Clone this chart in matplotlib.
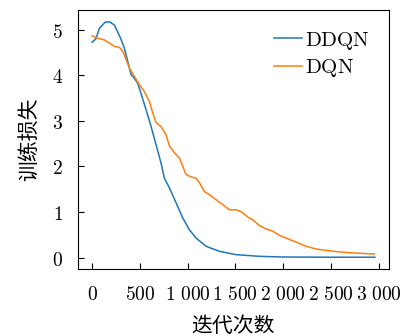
import matplotlib
matplotlib.use("Agg")
import matplotlib.pyplot as plt
from matplotlib.ticker import FuncFormatter

plt.rcParams['mathtext.fontset'] = 'cm'
plt.rcParams['font.family'] = ['Noto Sans CJK SC', 'DejaVu Sans']

ddqn_x = [0, 40, 77, 136, 181, 233, 296, 338, 373, 408, 443, 478, 513, 565, 618, 670,
          722, 757, 809, 880, 949, 1019, 1089, 1193, 1332, 1507, 1751, 1995, 2300,
          2600, 2961]
ddqn_y = [4.72, 4.80, 5.03, 5.16, 5.17, 5.10, 4.82, 4.59, 4.30, 4.01, 3.93, 3.82, 3.59,
          3.24, 2.87, 2.47, 2.07, 1.74, 1.53, 1.20, 0.87, 0.61, 0.43, 0.25, 0.14,
          0.066, 0.03, 0.015, 0.012, 0.01, 0.01]

dqn_x = [0, 59, 129, 181, 233, 286, 321, 356, 391, 443, 495, 541, 600, 635, 670, 722,
         775, 809, 862, 914, 949, 984, 1037, 1089, 1124, 1176, 1228, 1298, 1368, 1438,
         1508, 1560, 1630, 1682, 1752, 1822, 1891, 1961, 2031, 2136, 2241, 2345, 2485,
         2624, 2764, 2956]
dqn_y = [4.86, 4.81, 4.77, 4.70, 4.63, 4.61, 4.52, 4.34, 4.15, 3.97, 3.79, 3.66, 3.42,
         3.17, 2.96, 2.87, 2.69, 2.45, 2.30, 2.18, 2.00, 1.82, 1.77, 1.74, 1.64, 1.45,
         1.38, 1.27, 1.16, 1.05, 1.05, 1.01, 0.89, 0.83, 0.70, 0.63, 0.58, 0.49, 0.43,
         0.34, 0.25, 0.19, 0.15, 0.12, 0.10, 0.08]

xticks = [0, 500, 1000, 1500, 2000, 2500, 3000]
yticks = [0, 1, 2, 3, 4, 5]

fig = plt.figure(figsize=(4.14, 3.36), dpi=100)
ax = fig.add_axes([78/414, 1 - 269/336, (389-78)/414, (269-10)/336])
ax.plot(ddqn_x, ddqn_y, color='#1f77b4', lw=1.1, label='DDQN')
ax.plot(dqn_x, dqn_y, color='#ff7f0e', lw=1.1, label='DQN')

def fmt(v, pos):
    v = int(round(v))
    s = f"{v:,}".replace(",", r"\ ")
    return f"${s}$"

ax.set_xticks(xticks)
ax.set_yticks(yticks)
ax.xaxis.set_major_formatter(FuncFormatter(fmt))
ax.yaxis.set_major_formatter(FuncFormatter(lambda v, p: f"${int(v)}$"))
ax.tick_params(direction='in', length=4, labelsize=14, top=False, right=False)
ax.tick_params(axis='x', pad=11)
ax.tick_params(axis='y', pad=11)
ax.set_xlabel('迭代次数', fontsize=15, labelpad=7)
ax.set_ylabel('训练损失', fontsize=15, labelpad=8)
leg = ax.legend(frameon=False, loc='upper right', handlelength=1.35,
                handletextpad=0.15, labelspacing=0.2, borderaxespad=0.5,
                prop={'size': 15})
for t in leg.get_texts():
    t.set_text(f"$\\mathrm{{{t.get_text()}}}$")
fig.savefig('out.png', dpi=100)
